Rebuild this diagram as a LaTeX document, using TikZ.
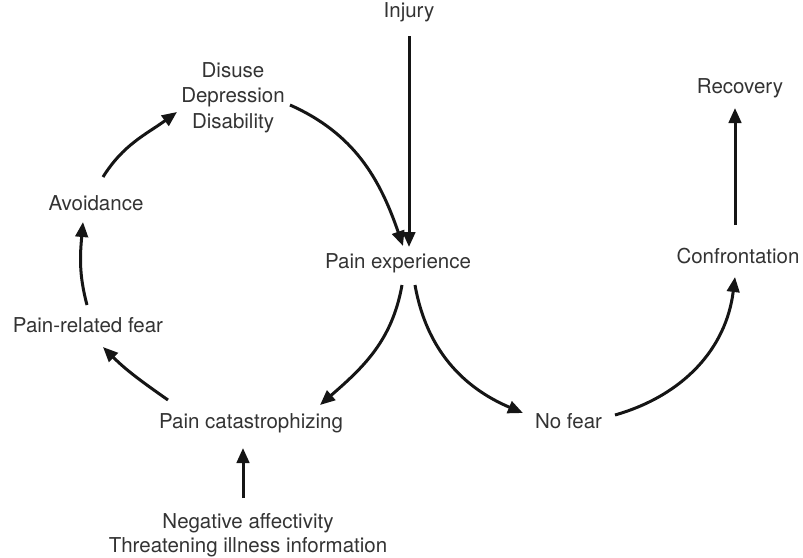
\documentclass[tikz,border=0pt]{standalone}
\usepackage{fontspec}
\setmainfont{TeX Gyre Heros}
\usetikzlibrary{arrows.meta}
\definecolor{labelgray}{HTML}{333333}
\definecolor{arrowblack}{HTML}{151515}
\begin{document}
\begin{tikzpicture}[x=1pt,y=1pt,
  lbl/.style={inner sep=0pt, outer sep=0pt, text=labelgray,
    font=\fontsize{20.5}{24}\selectfont, anchor=base},
  multilbl/.style={lbl, anchor=center, align=center},
  arr/.style={draw=arrowblack, line width=3pt,
    -{Triangle[length=15pt,width=12.5pt]}}]
\useasboundingbox (0,0) rectangle (803,-557);

% labels (anchored on their baselines)
\node[lbl] (inj)  at (409,-17)  {Injury};
\node[multilbl, font=\fontsize{20.5}{25.5}\selectfont] (dis) at (233,-97.4)
  {Disuse\\Depression\\Disability};
\node[lbl] (av)   at (96,-210)  {Avoidance};
\node[lbl] (prf)  at (88,-332)  {Pain-related fear};
\node[lbl] (pc)   at (251,-428) {Pain catastrophizing};
\node[multilbl] (na) at (248,-535)
  {Negative affectivity\\Threatening illness information};
\node[lbl] (pe)   at (398,-268) {Pain experience};
\node[lbl] (nf)   at (568.5,-428) {No fear};
\node[lbl] (conf) at (738,-263) {Confrontation};
\node[lbl] (rec)  at (740,-93)  {Recovery};

% entry into the model
\draw[arr] ([shift={(0,-19)}]inj.base) -- ([shift={(11,21)}]pe.base);

% fear-avoidance loop
\draw[arr] ([shift={(57,-7.6)}]dis.center) to[out=-24,in=109]
  ([shift={(5,22)}]pe.base);
\draw[arr] ([shift={(4,-17)}]pe.base) to[out=260,in=41]
  ([shift={(69,23)}]pc.base);
\draw[arr] ([shift={(-83,28)}]pc.base) to[out=145,in=-45]
  ([shift={(15,-15)}]prf.base);
\draw[arr] ([shift={(-1,27)}]prf.base) to[out=105,in=265]
  ([shift={(-13,-12)}]av.base);
\draw[arr] ([shift={(7,33)}]av.base) to[out=58,in=216]
  ([shift={(-56,-14.6)}]dis.center);

% contributing factors
\draw[arr] ([shift={(-5,37)}]na.center) -- ([shift={(-8,-20)}]pc.base);

% recovery path
\draw[arr] ([shift={(17,-17)}]pe.base) to[out=-80,in=157]
  ([shift={(-45.5,15)}]nf.base);
\draw[arr] ([shift={(46.5,13)}]nf.base) to[out=16,in=263]
  ([shift={(-3,-14)}]conf.base);
\draw[arr] ([shift={(-3,38)}]conf.base) -- ([shift={(-5,-15)}]rec.base);
\end{tikzpicture}
\end{document}
